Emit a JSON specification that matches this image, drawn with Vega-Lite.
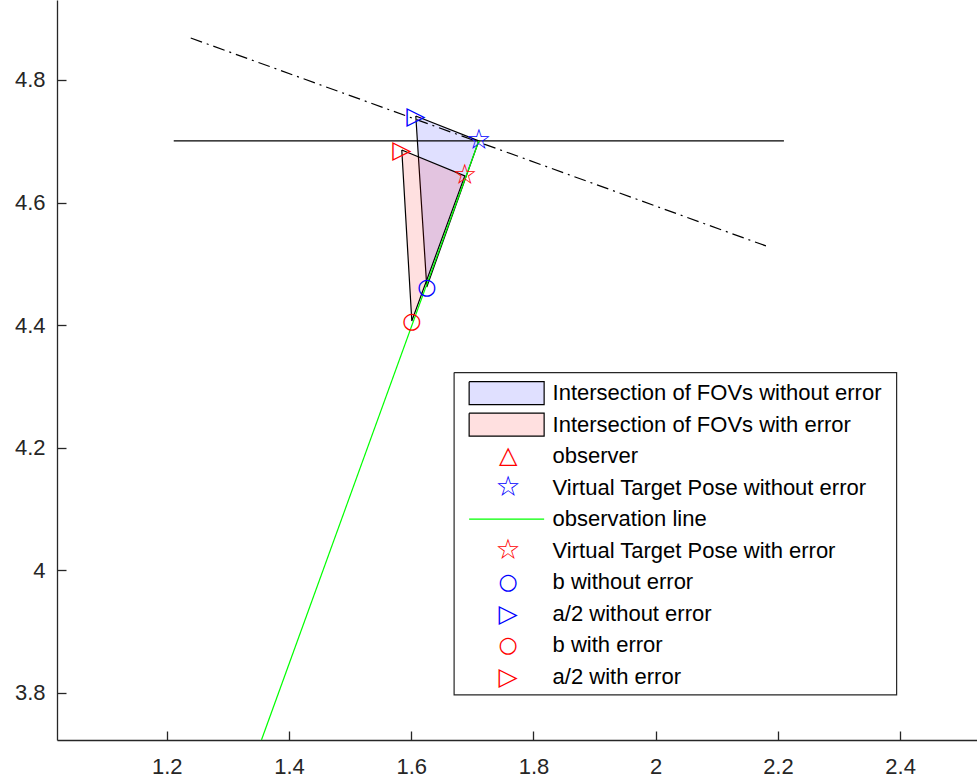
{
  "$schema": "https://vega.github.io/schema/vega-lite/v6.json",
  "width": 920,
  "height": 740,
  "autosize": {"type": "none"},
  "padding": {"left": 57, "top": 0, "right": 0, "bottom": 44},
  "background": "white",
  "config": {
    "aria": false,
    "view": {"stroke": null},
    "font": "Liberation Sans",
    "axis": {
      "domainColor": "#262626",
      "domainWidth": 1.3,
      "tickColor": "#262626",
      "tickWidth": 1.3,
      "tickSize": -9,
      "labelColor": "#262626",
      "labelFont": "Liberation Sans",
      "labelFontSize": 22,
      "grid": false,
      "title": null
    }
  },
  "datasets": {
    "polys": [
      {"poly": "blue", "ord": 0, "x": 1.6075, "y": 4.7413},
      {"poly": "blue", "ord": 1, "x": 1.7106, "y": 4.7005},
      {"poly": "blue", "ord": 2, "x": 1.6255, "y": 4.4623},
      {"poly": "blue", "ord": 3, "x": 1.6075, "y": 4.7413},
      {"poly": "red", "ord": 0, "x": 1.5846, "y": 4.6858},
      {"poly": "red", "ord": 1, "x": 1.6877, "y": 4.6434},
      {"poly": "red", "ord": 2, "x": 1.601, "y": 4.4068},
      {"poly": "red", "ord": 3, "x": 1.5846, "y": 4.6858}
    ],
    "lines": [
      {"line": "horizontal", "ord": 0, "x": 1.2115, "y": 4.7005},
      {"line": "horizontal", "ord": 1, "x": 2.2098, "y": 4.7005},
      {"line": "dashdot", "ord": 0, "x": 1.2393, "y": 4.8685},
      {"line": "dashdot", "ord": 1, "x": 2.1804, "y": 4.5292},
      {"line": "observation", "ord": 0, "x": 1.355, "y": 3.723},
      {"line": "observation", "ord": 1, "x": 1.7106, "y": 4.7005}
    ],
    "markers": [
      {"entry": "Virtual Target Pose without error", "x": 1.7106, "y": 4.7005},
      {"entry": "Virtual Target Pose with error", "x": 1.6877, "y": 4.6434},
      {"entry": "b without error", "x": 1.6255, "y": 4.4623},
      {"entry": "a/2 without error", "x": 1.6075, "y": 4.7413},
      {"entry": "b with error", "x": 1.601, "y": 4.4068},
      {"entry": "a/2 with error", "x": 1.5846, "y": 4.6858}
    ],
    "legendShapes": [
      {"shape": "box", "ord": 0, "x": 1.6702, "y": 4.3225},
      {"shape": "box", "ord": 1, "x": 2.3942, "y": 4.3225},
      {"shape": "box", "ord": 2, "x": 2.3942, "y": 3.7967},
      {"shape": "box", "ord": 3, "x": 1.6702, "y": 3.7967},
      {"shape": "box", "ord": 4, "x": 1.6702, "y": 4.3225},
      {"shape": "patchBlue", "ord": 0, "x": 1.6948, "y": 4.3077},
      {"shape": "patchBlue", "ord": 1, "x": 1.8175, "y": 4.3077},
      {"shape": "patchBlue", "ord": 2, "x": 1.8175, "y": 4.2702},
      {"shape": "patchBlue", "ord": 3, "x": 1.6948, "y": 4.2702},
      {"shape": "patchBlue", "ord": 4, "x": 1.6948, "y": 4.3077},
      {"shape": "patchRed", "ord": 0, "x": 1.6948, "y": 4.2563},
      {"shape": "patchRed", "ord": 1, "x": 1.8175, "y": 4.2563},
      {"shape": "patchRed", "ord": 2, "x": 1.8175, "y": 4.2187},
      {"shape": "patchRed", "ord": 3, "x": 1.6948, "y": 4.2187},
      {"shape": "patchRed", "ord": 4, "x": 1.6948, "y": 4.2563},
      {"shape": "obsLine", "ord": 0, "x": 1.6948, "y": 4.0833},
      {"shape": "obsLine", "ord": 1, "x": 1.8175, "y": 4.0833}
    ],
    "legendItems": [
      {"entry": "Intersection of FOVs without error", "x": 1.7586, "lx": 1.8313, "y": 4.2889},
      {"entry": "Intersection of FOVs with error", "x": 1.7586, "lx": 1.8313, "y": 4.2375},
      {"entry": "observer", "x": 1.7586, "lx": 1.8313, "y": 4.1861},
      {"entry": "Virtual Target Pose without error", "x": 1.7586, "lx": 1.8313, "y": 4.1347},
      {"entry": "observation line", "x": 1.7586, "lx": 1.8313, "y": 4.0833},
      {"entry": "Virtual Target Pose with error", "x": 1.7586, "lx": 1.8313, "y": 4.032},
      {"entry": "b without error", "x": 1.7586, "lx": 1.8313, "y": 3.9806},
      {"entry": "a/2 without error", "x": 1.7586, "lx": 1.8313, "y": 3.9292},
      {"entry": "b with error", "x": 1.7586, "lx": 1.8313, "y": 3.8778},
      {"entry": "a/2 with error", "x": 1.7586, "lx": 1.8313, "y": 3.8264}
    ]
  },
  "encoding": {
    "x": {"field": "x", "type": "quantitative", "scale": {"domain": [1.0205, 2.5257], "nice": false, "zero": false},
      "axis": {"values": [1.2, 1.4, 1.6, 1.8, 2, 2.2, 2.4], "format": "~g", "labelPadding": 25}},
    "y": {"field": "y", "type": "quantitative", "scale": {"domain": [3.723, 4.9305], "nice": false, "zero": false},
      "axis": {"values": [3.8, 4, 4.2, 4.4, 4.6, 4.8], "format": "~g", "labelPadding": 21}}
  },
  "layer": [
    {
      "data": {"name": "polys"},
      "transform": [{"filter": "datum.poly === 'blue'"}],
      "mark": {"type": "line", "fill": "#0000ff", "fillOpacity": 0.12, "stroke": "black", "strokeWidth": 1.2},
      "encoding": {"order": {"field": "ord", "type": "quantitative"}}
    },
    {
      "data": {"name": "polys"},
      "transform": [{"filter": "datum.poly === 'red'"}],
      "mark": {"type": "line", "fill": "#ff0000", "fillOpacity": 0.12, "stroke": "black", "strokeWidth": 1.2},
      "encoding": {"order": {"field": "ord", "type": "quantitative"}}
    },
    {
      "data": {"name": "lines"},
      "transform": [{"filter": "datum.line === 'horizontal'"}],
      "mark": {"type": "line", "stroke": "black", "strokeWidth": 1.2},
      "encoding": {"order": {"field": "ord", "type": "quantitative"}}
    },
    {
      "data": {"name": "lines"},
      "transform": [{"filter": "datum.line === 'dashdot'"}],
      "mark": {"type": "line", "stroke": "black", "strokeWidth": 1.2, "strokeDash": [12, 5, 2, 5]},
      "encoding": {"order": {"field": "ord", "type": "quantitative"}}
    },
    {
      "data": {"name": "lines"},
      "transform": [{"filter": "datum.line === 'observation'"}],
      "mark": {"type": "line", "stroke": "#00ff00", "strokeWidth": 1.2},
      "encoding": {"order": {"field": "ord", "type": "quantitative"}}
    },
    {
      "data": {"name": "markers"},
      "transform": [{"filter": "indexof(datum.entry, 'Virtual') === 0"}],
      "mark": {"type": "text", "text": "☆", "font": "DejaVu Sans", "fontSize": 28, "baseline": "middle", "align": "center"},
      "encoding": {"color": {"field": "entry", "type": "nominal", "legend": null, "scale": {
        "domain": ["Intersection of FOVs without error", "Intersection of FOVs with error", "observer", "Virtual Target Pose without error", "observation line", "Virtual Target Pose with error", "b without error", "a/2 without error", "b with error", "a/2 with error"],
        "range": ["#000000", "#000000", "#ff0000", "#0000ff", "#00ff00", "#ff0000", "#0000ff", "#0000ff", "#ff0000", "#ff0000"]}}}
    },
    {
      "data": {"name": "markers"},
      "transform": [{"filter": "indexof(datum.entry, 'b ') === 0"}],
      "mark": {"type": "text", "text": "○", "font": "DejaVu Sans", "fontSize": 22, "baseline": "middle", "align": "center"},
      "encoding": {"color": {"field": "entry", "type": "nominal", "legend": null}}
    },
    {
      "data": {"name": "markers"},
      "transform": [{"filter": "indexof(datum.entry, 'a/2') === 0"}],
      "mark": {"type": "text", "text": "▷", "font": "DejaVu Sans", "fontSize": 25, "baseline": "middle", "align": "center"},
      "encoding": {"color": {"field": "entry", "type": "nominal", "legend": null}}
    },
    {
      "data": {"name": "legendShapes"},
      "transform": [{"filter": "datum.shape === 'box'"}],
      "mark": {"type": "line", "fill": "white", "stroke": "#262626", "strokeWidth": 1.2},
      "encoding": {"order": {"field": "ord", "type": "quantitative"}}
    },
    {
      "data": {"name": "legendShapes"},
      "transform": [{"filter": "datum.shape === 'patchBlue'"}],
      "mark": {"type": "line", "fill": "#0000ff", "fillOpacity": 0.12, "stroke": "black", "strokeWidth": 1.2},
      "encoding": {"order": {"field": "ord", "type": "quantitative"}}
    },
    {
      "data": {"name": "legendShapes"},
      "transform": [{"filter": "datum.shape === 'patchRed'"}],
      "mark": {"type": "line", "fill": "#ff0000", "fillOpacity": 0.12, "stroke": "black", "strokeWidth": 1.2},
      "encoding": {"order": {"field": "ord", "type": "quantitative"}}
    },
    {
      "data": {"name": "legendShapes"},
      "transform": [{"filter": "datum.shape === 'obsLine'"}],
      "mark": {"type": "line", "stroke": "#00ff00", "strokeWidth": 1.2},
      "encoding": {"order": {"field": "ord", "type": "quantitative"}}
    },
    {
      "data": {"name": "legendItems"},
      "transform": [{"filter": "datum.entry === 'observer'"}],
      "mark": {"type": "text", "text": "△", "font": "DejaVu Sans", "fontSize": 24, "baseline": "middle", "align": "center"},
      "encoding": {"color": {"field": "entry", "type": "nominal", "legend": null}}
    },
    {
      "data": {"name": "legendItems"},
      "transform": [{"filter": "indexof(datum.entry, 'Virtual') === 0"}],
      "mark": {"type": "text", "text": "☆", "font": "DejaVu Sans", "fontSize": 28, "baseline": "middle", "align": "center"},
      "encoding": {"color": {"field": "entry", "type": "nominal", "legend": null}}
    },
    {
      "data": {"name": "legendItems"},
      "transform": [{"filter": "indexof(datum.entry, 'b ') === 0"}],
      "mark": {"type": "text", "text": "○", "font": "DejaVu Sans", "fontSize": 22, "baseline": "middle", "align": "center"},
      "encoding": {"color": {"field": "entry", "type": "nominal", "legend": null}}
    },
    {
      "data": {"name": "legendItems"},
      "transform": [{"filter": "indexof(datum.entry, 'a/2') === 0"}],
      "mark": {"type": "text", "text": "▷", "font": "DejaVu Sans", "fontSize": 25, "baseline": "middle", "align": "center"},
      "encoding": {"color": {"field": "entry", "type": "nominal", "legend": null}}
    },
    {
      "data": {"name": "legendItems"},
      "mark": {"type": "text", "font": "Liberation Sans", "fontSize": 22, "baseline": "middle", "align": "left", "color": "black"},
      "encoding": {"x": {"field": "lx", "type": "quantitative"}, "text": {"field": "entry"}}
    }
  ]
}
